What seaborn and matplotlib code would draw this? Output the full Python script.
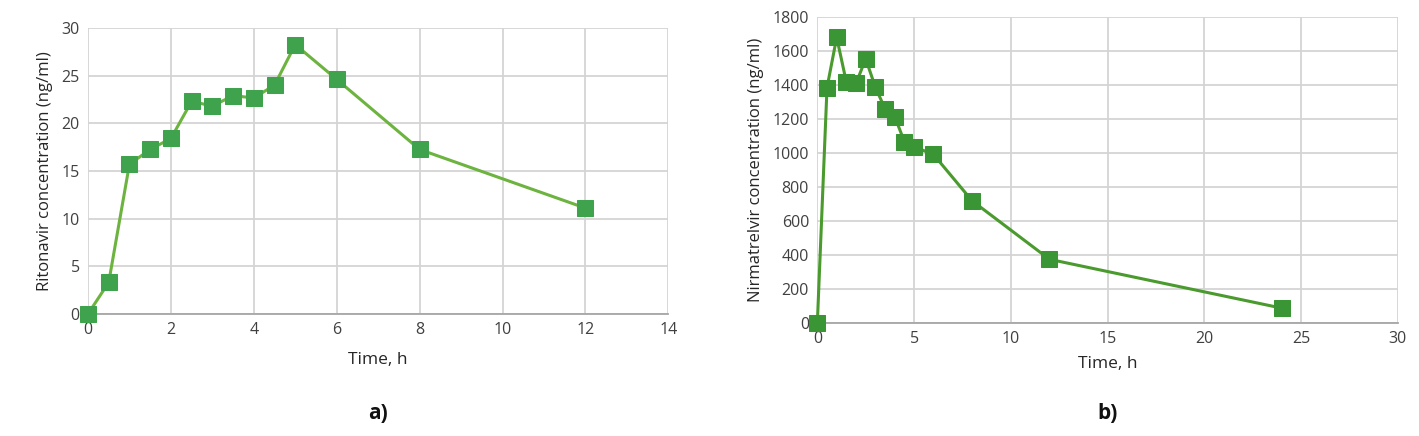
import numpy as np
import pandas as pd
import matplotlib
matplotlib.use('Agg')
import matplotlib.pyplot as plt
import seaborn as sns

# ritonavir (panel a)
rit_time = [0, 0.5, 1, 1.5, 2, 2.5, 3, 3.5, 4, 4.5, 5, 6, 8, 12]
rit_conc = [0, 3.3, 15.7, 17.25, 18.4, 22.3, 21.8, 22.9, 22.65, 24.0, 28.25, 24.6, 17.25, 11.1]

# nirmatrelvir (panel b)
nir_time = [0, 0.5, 1, 1.5, 2, 2.5, 3, 3.5, 4, 4.5, 5, 6, 8, 12, 24]
nir_conc = [0, 1385, 1680, 1417, 1410, 1554, 1387, 1260, 1214, 1067, 1037, 992, 719, 375, 88]

sns.set_style('white')
plt.rcParams['font.family'] = ['Open Sans', 'DejaVu Sans']

fig = plt.figure(figsize=(14.19, 4.36), dpi=100)
ax1 = fig.add_axes([0.062, 0.280, 0.409, 0.656])
ax2 = fig.add_axes([0.576, 0.259, 0.409, 0.702])

df_a = pd.DataFrame({'Time': rit_time, 'Conc': rit_conc})
df_b = pd.DataFrame({'Time': nir_time, 'Conc': nir_conc})

sns.lineplot(data=df_a, x='Time', y='Conc', ax=ax1, color='#6DB33F', lw=2.2,
             marker='s', markersize=11, markerfacecolor='#3FA34D',
             markeredgecolor='#3FA34D', clip_on=False, zorder=3)
sns.lineplot(data=df_b, x='Time', y='Conc', ax=ax2, color='#4A9A2E', lw=2.2,
             marker='s', markersize=11, markerfacecolor='#3A9634',
             markeredgecolor='#3A9634', clip_on=False, zorder=3)

panels = [
    (ax1, (0, 14), np.arange(0, 15, 2), (0, 30), np.arange(0, 31, 5),
     'Ritonavir concentration (ng/ml)', 'a)', -0.31, 10),
    (ax2, (0, 30), np.arange(0, 31, 5), (0, 1800), np.arange(0, 1801, 200),
     'Nirmatrelvir concentration (ng/ml)', 'b)', -0.26, 6),
]
for ax, xl, xt, yl, yt, ylab, tag, tag_y, xpad in panels:
    ax.set_xlim(*xl)
    ax.set_ylim(*yl)
    ax.set_xticks(xt)
    ax.set_yticks(yt)
    ax.grid(True, color='#D4D4D4', lw=1.3)
    ax.set_axisbelow(True)
    for s in ['top', 'right', 'left']:
        ax.spines[s].set_visible(False)
    ax.spines['bottom'].set_color('#A6A6A6')
    ax.spines['bottom'].set_linewidth(1.3)
    ax.tick_params(axis='both', length=0, labelsize=11.5, colors='#404040', pad=6)
    ax.set_xlabel('Time, h', fontsize=12.5, color='#262626', labelpad=xpad)
    ax.set_ylabel(ylab, fontsize=12, color='#262626', labelpad=6)
    ax.text(0.5, tag_y, tag, transform=ax.transAxes,
            ha='center', va='top', fontsize=15, fontweight='bold', color='#111111')

fig.savefig('out.png', dpi=100, facecolor='white')
